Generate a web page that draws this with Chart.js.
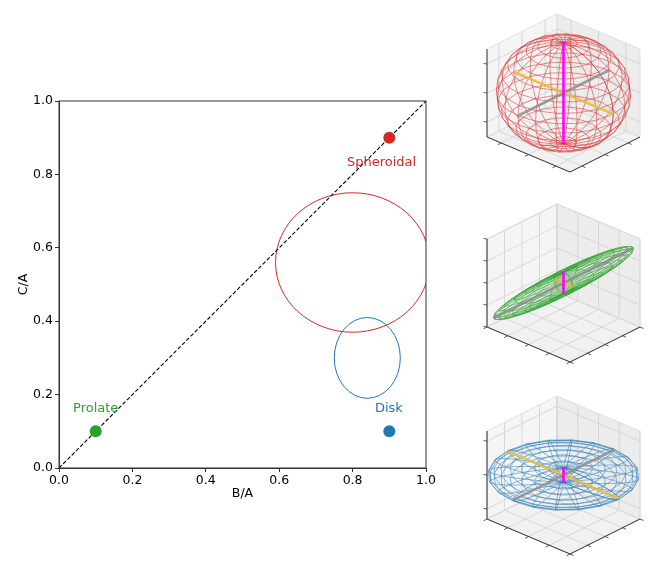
<!DOCTYPE html>
<html>
<head>
<meta charset="utf-8">
<script src="https://cdn.jsdelivr.net/npm/chart.js@4.4.1/dist/chart.umd.min.js"></script>
<style>
  html, body { margin: 0; padding: 0; background: #fff; }
  #wrap { width: 664px; height: 570px; position: relative; }
</style>
</head>
<body>
<div id="wrap"><canvas id="myChart"></canvas></div>
<script>
// shape classes in the B/A - C/A plane
const shapeNames = ['Spheroidal', 'Prolate', 'Disk']
const shapeColors = ['#d62728', '#2ca02c', '#1f77b4']
const ratioBA = [0.9, 0.1, 0.9]
const ratioCA = [0.9, 0.1, 0.1]
const labelBA = [0.879, 0.10, 0.899]
const labelCA = [0.832, 0.162, 0.162]

// spread of the measured samples (ellipses)
const ellipseColors = ['#d62728', '#1f77b4']
const ellipseBA = [0.80, 0.84]
const ellipseCA = [0.56, 0.30]
const ellipseHalfBA = [0.21, 0.09]
const ellipseHalfCA = [0.19, 0.11]

const diagonalBA = [0, 1]
const diagonalCA = [0, 1]
const tickValues = [0.0, 0.2, 0.4, 0.6, 0.8, 1.0]

// 3d insets: semi axes of each ellipsoid (x = gold, y = grey, z = magenta)
const semiX = [1.2, 0.22, 1.35]
const semiY = [1.3, 2.0, 1.45]
const semiZ = [1.15, 0.25, 0.17]
const insetTicksXY = [[-0.66, 0, 0.66], [-1, -0.5, 0, 0.5, 1], [-1, -0.5, 0, 0.5, 1]]
const insetTicksZ = [[-0.66, 0, 0.66], [-1, -0.5, 0, 0.5, 1], [-0.77, 0, 0.77]]

const FONT = 'DejaVu Sans'
Chart.defaults.font.family = FONT
Chart.defaults.font.size = 12.5
Chart.defaults.color = '#000'

// inset placement on the canvas
const insetCx = 563.5
const insetCy = [93, 283, 475]
const EX = [41.5, 17.5]
const EY = [35, -17.5]
const EZ = [0, -44]

function proj(cy, x, y, z) {
    return [insetCx + x * EX[0] + y * EY[0] + z * EZ[0],
            cy + x * EX[1] + y * EY[1] + z * EZ[1]]
}

function polyline(ctx, pts) {
    ctx.beginPath()
    pts.forEach((p, k) => k ? ctx.lineTo(p[0], p[1]) : ctx.moveTo(p[0], p[1]))
    ctx.stroke()
}

function drawInset(ctx, i) {
    const cy = insetCy[i]
    const P = (x, y, z) => proj(cy, x, y, z)
    const panes = [
        [[-1, -1, -1], [1, -1, -1], [1, 1, -1], [-1, 1, -1]],
        [[-1, -1, -1], [-1, 1, -1], [-1, 1, 1], [-1, -1, 1]],
        [[-1, 1, -1], [1, 1, -1], [1, 1, 1], [-1, 1, 1]]
    ]
    const paneFill = ['#f1f1f1', '#f5f5f5', '#ececec']
    panes.forEach((pane, k) => {
        ctx.beginPath()
        pane.forEach((c, n) => {
            const p = P(c[0], c[1], c[2])
            n ? ctx.lineTo(p[0], p[1]) : ctx.moveTo(p[0], p[1])
        })
        ctx.closePath()
        ctx.fillStyle = paneFill[k]
        ctx.fill()
    })

    // grid
    ctx.strokeStyle = '#d0d0d0'
    ctx.lineWidth = 0.8
    insetTicksXY[i].forEach(t => {
        polyline(ctx, [P(t, -1, -1), P(t, 1, -1)])
        polyline(ctx, [P(-1, t, -1), P(1, t, -1)])
        polyline(ctx, [P(-1, t, -1), P(-1, t, 1)])
        polyline(ctx, [P(t, 1, -1), P(t, 1, 1)])
    })
    insetTicksZ[i].forEach(s => {
        polyline(ctx, [P(-1, -1, s), P(-1, 1, s)])
        polyline(ctx, [P(-1, 1, s), P(1, 1, s)])
    })
    ctx.strokeStyle = '#dadada'
    panes.forEach(pane => polyline(ctx, pane.concat([pane[0]]).map(c => P(c[0], c[1], c[2]))))

    // axis lines with ticks
    ctx.strokeStyle = '#333'
    ctx.lineWidth = 1
    polyline(ctx, [P(-1, -1, -1), P(-1, -1, 1)])
    polyline(ctx, [P(-1, -1, -1), P(1, -1, -1)])
    polyline(ctx, [P(1, -1, -1), P(1, 1, -1)])
    ctx.lineWidth = 0.8
    insetTicksXY[i].forEach(t => {
        let p = P(t, -1, -1)
        polyline(ctx, [p, [p[0] - 3.5, p[1] + 1.8]])
        p = P(1, t, -1)
        polyline(ctx, [p, [p[0] + 3.5, p[1] + 1.5]])
    })
    insetTicksZ[i].forEach(s => {
        const p = P(-1, -1, s)
        polyline(ctx, [p, [p[0] - 3.5, p[1] - 0.5]])
    })

    // wireframe
    const a = semiX[i], b = semiY[i], c = semiZ[i]
    const nu = 20, nv = 16
    const grid = []
    for (let j = 0; j <= nv; j++) {
        const row = []
        const v = Math.PI * j / nv
        for (let k = 0; k <= nu; k++) {
            const u = 2 * Math.PI * k / nu
            row.push(P(a * Math.cos(u) * Math.sin(v), b * Math.sin(u) * Math.sin(v), c * Math.cos(v)))
        }
        grid.push(row)
    }
    ctx.save()
    ctx.globalAlpha = 0.85
    ctx.strokeStyle = shapeColors[i]
    ctx.lineWidth = 0.6
    grid.forEach(row => polyline(ctx, row))
    for (let k = 0; k <= nu; k++) polyline(ctx, grid.map(row => row[k]))
    ctx.restore()

    // principal axes
    ctx.save()
    ctx.lineCap = 'butt'
    ctx.globalAlpha = 0.85
    ctx.lineWidth = 2.6
    ctx.strokeStyle = '#8c8c8c'
    polyline(ctx, [P(0, -b, 0), P(0, b, 0)])
    ctx.strokeStyle = '#eab736'
    polyline(ctx, [P(-a, 0, 0), P(a, 0, 0)])
    ctx.globalAlpha = 1
    ctx.strokeStyle = '#ff00ff'
    polyline(ctx, [P(0, 0, -c), P(0, 0, c)])
    ctx.restore()
}

const ellipsePlugin = {
    id: 'ellipses',
    beforeDatasetsDraw(chart) {
        const {ctx, chartArea, scales: {x, y}} = chart
        ctx.save()
        ctx.beginPath()
        ctx.rect(chartArea.left, chartArea.top, chartArea.width, chartArea.height)
        ctx.clip()
        ellipseBA.forEach((cx, i) => {
            const px = x.getPixelForValue(cx)
            const py = y.getPixelForValue(ellipseCA[i])
            const rx = x.getPixelForValue(cx + ellipseHalfBA[i]) - px
            const ry = py - y.getPixelForValue(ellipseCA[i] + ellipseHalfCA[i])
            ctx.beginPath()
            ctx.ellipse(px, py, rx, ry, 0, 0, 2 * Math.PI)
            ctx.strokeStyle = ellipseColors[i]
            ctx.lineWidth = 1
            ctx.stroke()
        })
        ctx.restore()
    },
    afterDatasetsDraw(chart) {
        const {ctx, chartArea, scales: {x, y}} = chart
        ctx.save()
        ctx.font = '13px "' + FONT + '"'
        ctx.textAlign = 'center'
        ctx.textBaseline = 'middle'
        shapeNames.forEach((name, i) => {
            ctx.fillStyle = shapeColors[i]
            ctx.fillText(name, x.getPixelForValue(labelBA[i]), y.getPixelForValue(labelCA[i]))
        })
        // frame
        ctx.strokeStyle = '#333'
        ctx.lineWidth = 1
        ctx.strokeRect(chartArea.left, chartArea.top, chartArea.width, chartArea.height)
        ctx.restore()
    },
    afterDraw(chart) {
        shapeNames.forEach((name, i) => drawInset(chart.ctx, i))
    }
}

const axisBase = {
    type: 'linear',
    min: 0,
    max: 1,
    afterBuildTicks: scale => { scale.ticks = tickValues.map(v => ({value: v})) },
    grid: {drawOnChartArea: false, drawTicks: true, tickLength: 4, color: '#333'},
    border: {display: true, color: '#333'}
}

const data = {
    datasets: [{
        label: 'shapes',
        data: ratioBA.map((v, i) => ({x: v, y: ratioCA[i]})),
        backgroundColor: shapeColors,
        borderWidth: 0,
        pointRadius: 6,
        pointHoverRadius: 6
    }, {
        label: 'diagonal',
        type: 'line',
        data: diagonalBA.map((v, i) => ({x: v, y: diagonalCA[i]})),
        borderColor: '#000',
        borderWidth: 1.1,
        borderDash: [4, 2],
        pointRadius: 0,
        fill: false
    }]
}

const config = {
    type: 'scatter',
    data: data,
    options: {
        responsive: false,
        animation: false,
        devicePixelRatio: 1,
        layout: {padding: {left: 0, top: 101, right: 238, bottom: 0}},
        plugins: {legend: {display: false}, tooltip: {enabled: false}},
        scales: {
            x: Object.assign({}, axisBase, {
                afterFit: scale => { scale.height = 102 },
                ticks: {padding: 1, callback: v => v.toFixed(1), maxRotation: 0},
                title: {display: true, text: 'B/A', padding: {top: 0, bottom: 69}}
            }),
            y: Object.assign({}, axisBase, {
                afterFit: scale => { scale.width = 59 },
                ticks: {padding: 2, callback: v => v.toFixed(1)},
                title: {display: true, text: 'C/A', padding: {top: 16, bottom: 0}}
            })
        }
    },
    plugins: [ellipsePlugin]
}

const canvas = document.getElementById('myChart')
canvas.width = 664
canvas.height = 570
const myChart = new Chart(canvas, config)
</script>
</body>
</html>
